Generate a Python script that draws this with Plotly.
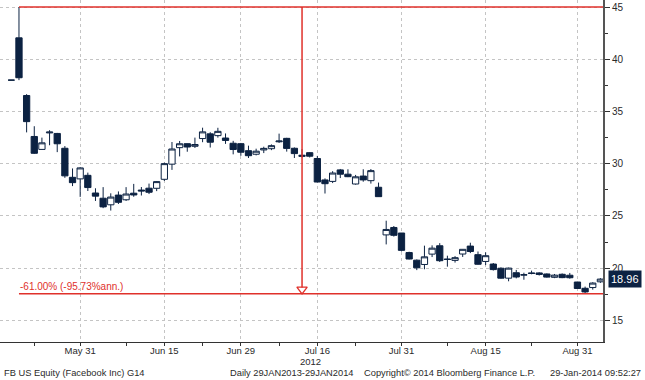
import plotly.graph_objects as go

# ---------------- data ----------------
dates = ["2012-05-17","2012-05-18","2012-05-21","2012-05-22","2012-05-23","2012-05-24","2012-05-25",
         "2012-05-29","2012-05-30","2012-05-31","2012-06-01","2012-06-04","2012-06-05","2012-06-06",
         "2012-06-07","2012-06-08","2012-06-11","2012-06-12","2012-06-13","2012-06-14","2012-06-15",
         "2012-06-18","2012-06-19","2012-06-20","2012-06-21","2012-06-22","2012-06-25","2012-06-26",
         "2012-06-27","2012-06-28","2012-06-29","2012-07-02","2012-07-03","2012-07-05","2012-07-06",
         "2012-07-09","2012-07-10","2012-07-11","2012-07-12","2012-07-13","2012-07-16","2012-07-17",
         "2012-07-18","2012-07-19","2012-07-20","2012-07-23","2012-07-24","2012-07-25","2012-07-26",
         "2012-07-27","2012-07-30","2012-07-31","2012-08-01","2012-08-02","2012-08-03","2012-08-06",
         "2012-08-07","2012-08-08","2012-08-09","2012-08-10","2012-08-13","2012-08-14","2012-08-15",
         "2012-08-16","2012-08-17","2012-08-20","2012-08-21","2012-08-22","2012-08-23","2012-08-24",
         "2012-08-27","2012-08-28","2012-08-29","2012-08-30","2012-08-31","2012-09-04","2012-09-05",
         "2012-09-06"]

open_ = [38.00,42.05,36.53,32.61,31.37,32.95,32.90,31.48,28.70,28.55,28.89,27.20,26.70,26.07,
         27.00,26.55,27.18,27.48,27.66,27.65,28.51,29.96,31.54,31.92,31.67,32.41,32.86,32.69,
         32.46,31.96,31.92,31.25,30.91,31.32,31.44,32.10,32.43,31.48,30.70,31.06,30.50,28.45,
         28.31,29.41,29.00,28.06,28.82,28.38,27.75,23.19,23.90,23.37,21.50,20.77,20.36,21.35,
         22.15,20.88,20.75,21.36,22.12,21.30,20.65,20.40,20.00,19.05,19.57,19.34,19.55,19.55,
         19.45,19.13,19.42,19.33,18.68,18.08,18.15,18.70]
high_ = [38.00,45.00,36.66,33.59,32.50,33.21,32.95,31.69,29.55,29.67,29.15,27.65,27.76,27.17,
         27.35,27.76,28.07,27.77,28.10,28.32,30.10,32.08,32.18,31.93,32.50,33.45,33.02,33.44,
         32.90,32.19,31.99,31.73,31.44,31.63,31.85,32.88,32.48,31.56,31.40,31.10,30.75,28.60,
         29.29,29.50,29.47,28.93,29.47,29.49,28.20,24.55,24.04,23.37,21.58,20.84,22.16,22.19,
         22.40,21.20,21.16,21.82,22.44,21.60,21.52,20.50,20.08,20.06,19.84,19.57,19.77,19.62,
         19.50,19.45,19.50,19.55,18.70,18.24,18.66,19.05]
low_ = [38.00,38.00,33.00,30.94,31.36,31.77,31.11,28.65,27.86,26.83,27.39,26.44,25.75,25.52,
        26.15,26.44,26.84,26.96,27.10,27.38,28.35,29.41,30.70,31.15,31.51,32.06,31.55,32.50,
        31.90,30.90,30.76,30.55,30.80,31.02,31.30,31.99,31.16,30.55,30.60,30.60,28.22,27.15,
        28.15,28.63,28.72,28.00,28.28,28.10,26.82,22.28,23.03,21.61,20.84,19.82,19.90,21.07,
        20.60,20.15,20.54,21.08,21.45,20.34,20.30,19.78,19.00,18.75,19.03,18.90,19.42,19.30,
        19.10,19.05,19.05,19.00,18.03,17.55,17.95,18.60]
close_ = [38.00,38.23,34.03,31.00,32.00,33.03,31.91,28.84,28.19,29.60,27.72,26.90,25.87,26.81,
          26.31,27.10,27.01,27.40,27.27,28.29,30.01,31.41,31.91,31.60,31.84,33.05,32.06,33.10,
          32.23,31.36,31.10,30.77,31.20,31.47,31.73,32.17,31.47,30.97,30.81,30.72,28.25,28.09,
          29.11,29.00,28.76,28.75,28.45,29.34,26.85,23.71,23.15,21.71,20.88,20.04,21.09,21.92,
          20.72,20.84,21.01,21.81,21.60,20.38,21.20,19.87,19.05,20.01,19.16,19.38,19.50,19.41,
          19.15,19.34,19.10,19.09,18.06,17.73,18.58,18.96]

major_tick_dates = ["2012-05-31","2012-06-15","2012-06-29","2012-07-16","2012-07-31","2012-08-15","2012-08-31"]
major_tick_labels = ["May 31","Jun 15","Jun 29","Jul 16","Jul 31","Aug 15","Aug 31"]
year_label_date = "2012-07-16"
year_label = "2012"
minor_tick_dates = ["2012-05-22","2012-06-08","2012-06-22","2012-07-09","2012-07-23","2012-08-08","2012-08-23"]
y_tick_vals = [15, 20, 25, 30, 35, 40, 45]
measure_date = "2012-07-12"
measure_label = "-61.00% (-95.73%ann.)"
footer_texts = ["FB US Equity (Facebook Inc) G14", "Daily 29JAN2013-29JAN2014",
                "Copyright\u00a9 2014 Bloomberg Finance L.P.", "29-Jan-2014 09:52:27"]

# ---------------- styling ----------------
NAVY = "#0c2242"
RED = "#e0312b"
GRID = "#c4c4c4"
TXT = "#2a2a2a"
FONT = "Liberation Sans"
X_RANGE = [-1.48, 77.34]
Y_RANGE = [12.94, 45.67]
W, H = 645, 380
ML, MR, MT, MB = 0, 42, 0, 38
PW = W - ML - MR

xi = list(range(len(dates)))
pos = {d: i for i, d in enumerate(dates)}

fig = go.Figure()
fig.add_trace(go.Candlestick(
    x=xi, open=open_, high=high_, low=low_, close=close_,
    increasing=dict(line=dict(color=NAVY, width=1), fillcolor="white"),
    decreasing=dict(line=dict(color=NAVY, width=1), fillcolor=NAVY),
    whiskerwidth=0, hoverinfo="skip", showlegend=False))

hi_val = max(high_)
lo_val = min(low_)
hi_idx = high_.index(hi_val)
m_idx = pos[measure_date]

shapes = [
    dict(type="line", xref="x", yref="y", x0=hi_idx, x1=X_RANGE[1], y0=hi_val, y1=hi_val,
         line=dict(color=RED, width=1.5)),
    dict(type="line", xref="x", yref="y", x0=hi_idx, x1=X_RANGE[1], y0=lo_val, y1=lo_val,
         line=dict(color=RED, width=1.5)),
    dict(type="line", xref="x", yref="y", x0=m_idx, x1=m_idx, y0=hi_val, y1=lo_val + 0.6,
         line=dict(color=RED, width=1.5)),
]

fig.add_trace(go.Scatter(x=[m_idx], y=[lo_val + 0.42], mode="markers",
                         marker=dict(symbol="triangle-down-open", size=9, color=RED,
                                     line=dict(width=1.3, color=RED)),
                         hoverinfo="skip", showlegend=False))

annotations = [
    dict(x=hi_idx, y=lo_val, xref="x", yref="y", text=measure_label, showarrow=False,
         xanchor="left", yanchor="bottom", yshift=0, xshift=-1,
         font=dict(family=FONT, size=10, color=RED)),
    dict(x=1, y=close_[-1], xref="paper", yref="y", text=f"{close_[-1]:.2f}", showarrow=False,
         xanchor="left", yanchor="middle", xshift=5, bgcolor=NAVY, borderpad=2,
         font=dict(family=FONT, size=11, color="white")),
    dict(x=pos[year_label_date], y=0, xref="x", yref="paper", text=year_label, showarrow=False,
         xanchor="center", yanchor="middle", yshift=-19, xshift=-7,
         font=dict(family=FONT, size=9.5, color=TXT)),
]
footer_px = [2, 228, 362, 548]
for t, px in zip(footer_texts, footer_px):
    annotations.append(dict(x=px / PW, y=0, xref="paper", yref="paper", text=t, showarrow=False,
                            xanchor="left", yanchor="middle", yshift=-31,
                            font=dict(family=FONT, size=9.3, color=TXT)))

fig.update_layout(
    width=W, height=H, margin=dict(l=ML, r=MR, t=MT, b=MB, autoexpand=False),
    paper_bgcolor="white", plot_bgcolor="white",
    boxgap=0.18, boxgroupgap=0,
    shapes=shapes, annotations=annotations,
    font=dict(family=FONT, size=10, color=TXT),
    xaxis=dict(range=X_RANGE, rangeslider=dict(visible=False),
               tickmode="array", tickvals=[pos[d] for d in major_tick_dates],
               ticktext=major_tick_labels, ticks="outside", ticklen=3, tickcolor="#333",
               ticklabelstandoff=-3,
               showgrid=True, gridcolor=GRID, griddash="dot", gridwidth=1,
               showline=True, linecolor="#333", linewidth=1, zeroline=False,
               tickfont=dict(family=FONT, size=9.5, color=TXT),
               minor=dict(tickmode="array", tickvals=[pos[d] for d in minor_tick_dates],
                          ticks="outside", ticklen=3, tickcolor="#333", showgrid=False)),
    yaxis=dict(range=Y_RANGE, side="right", tickmode="array", tickvals=y_tick_vals,
               ticks="outside", ticklen=5, tickcolor="#333", tickwidth=1,
               showgrid=True, gridcolor=GRID, griddash="dot", gridwidth=1,
               showline=True, linecolor="#555", linewidth=2, zeroline=False,
               tickfont=dict(family=FONT, size=10, color=TXT),
               minor=dict(dtick=2.5, tick0=0, ticks="outside", ticklen=3, tickcolor="#333",
                          showgrid=False)),
)

fig.write_html("out.html", config={"displayModeBar": False},
               post_script="document.body.style.margin='0px';")
